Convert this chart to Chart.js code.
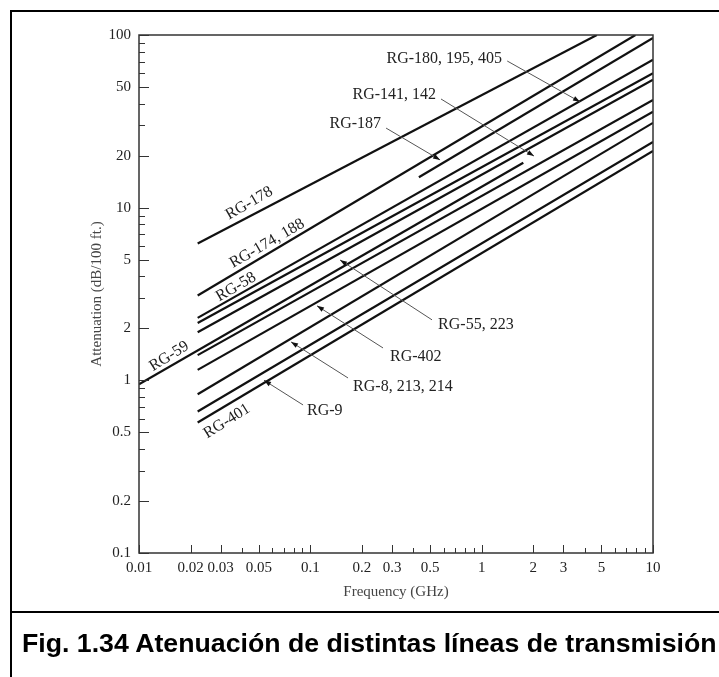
<!DOCTYPE html>
<html>
<head>
<meta charset="utf-8">
<title>Atenuación de líneas de transmisión</title>
<script src="https://cdn.jsdelivr.net/npm/chart.js"></script>
<style>
  body { margin: 0; width: 719px; height: 677px; overflow: hidden; background: #fff; position: relative; }
  #wrap { position: absolute; left: 0; top: 0; width: 719px; height: 612px; }
  #frame { position: absolute; left: 10px; top: 10px; width: 740px; height: 700px; border-left: 2px solid #000; border-top: 2px solid #000; }
  #sep { position: absolute; left: 10px; top: 611px; width: 740px; height: 2px; background: #000; }
  #caption { position: absolute; left: 22px; top: 628px; font: bold 26.7px "Liberation Sans", Arial, sans-serif; white-space: nowrap; color: #000; }
</style>
</head>
<body>
<div id="wrap"><canvas id="attChart" width="719" height="612"></canvas></div>
<div id="frame"></div>
<div id="sep"></div>
<div id="caption">Fig. 1.34 Atenuación de distintas líneas de transmisión</div>
<script>
// cables (frequency in GHz, attenuation in dB/100 ft)
const cableNames = ['RG-178', 'RG-174, 188', 'RG-187', 'RG-58', 'RG-180, 195, 405', 'RG-55, 223',
                    'RG-59', 'RG-141, 142', 'RG-402', 'RG-8, 213, 214', 'RG-9', 'RG-401'];
const startGHz = [0.022, 0.022, 0.43, 0.022, 0.022, 0.022, 0.01, 0.022, 0.022, 0.022, 0.022, 0.022];
const startAtt = [6.2, 3.1, 15, 2.3, 2.15, 1.9, 0.95, 1.4, 1.15, 0.83, 0.66, 0.57];
const endGHz = [4.7, 7.9, 10, 10, 10, 10, 1.75, 10, 10, 10, 10, 10];
const endAtt = [100, 100, 96, 72, 60, 55, 18.2, 42, 36, 31, 24, 21.3];

// axis ticks
const xMajor = [0.01, 0.02, 0.03, 0.05, 0.1, 0.2, 0.3, 0.5, 1, 2, 3, 5, 10];
const xMajorText = ['0.01', '0.02', '0.03', '0.05', '0.1', '0.2', '0.3', '0.5', '1', '2', '3', '5', '10'];
const xMinor = [0.04, 0.06, 0.07, 0.08, 0.09, 0.4, 0.6, 0.7, 0.8, 0.9, 4, 6, 7, 8, 9];
const yMajor = [0.1, 0.2, 0.5, 1, 2, 5, 10, 20, 50, 100];
const yMajorText = ['0.1', '0.2', '0.5', '1', '2', '5', '10', '20', '50', '100'];
const yMinor = [0.3, 0.4, 0.6, 0.7, 0.8, 0.9, 3, 4, 6, 7, 8, 9, 30, 40, 60, 70, 80, 90];

// labels written along the lines (data coords)
const slantLabels = [
  { text: 'RG-178', f: 0.044, a: 10.6, angle: -30 },
  { text: 'RG-174, 188', f: 0.056, a: 6.2, angle: -30 },
  { text: 'RG-58', f: 0.0368, a: 3.47, angle: -30 },
  { text: 'RG-59', f: 0.015, a: 1.38, angle: -32 },
  { text: 'RG-401', f: 0.0326, a: 0.58, angle: -32 }
];

// labels with a leader and arrow: text pos, leader start, arrow tip
const callouts = [
  { text: 'RG-180, 195, 405', align: 'right', tf: 1.315, ta: 72.6, sf: 1.41, sa: 70.7, ef: 3.75, ea: 41 },
  { text: 'RG-141, 142', align: 'right', tf: 0.542, ta: 44.9, sf: 0.579, sa: 42.6, ef: 2.02, ea: 19.9 },
  { text: 'RG-187', align: 'right', tf: 0.2586, ta: 30.5, sf: 0.2767, sa: 28.9, ef: 0.572, ea: 18.9 },
  { text: 'RG-55, 223', align: 'left', tf: 0.557, ta: 2.09, sf: 0.513, sa: 2.24, ef: 0.149, ea: 4.98 },
  { text: 'RG-402', align: 'left', tf: 0.292, ta: 1.366, sf: 0.2657, sa: 1.54, ef: 0.1094, ea: 2.7 },
  { text: 'RG-8, 213, 214', align: 'left', tf: 0.1776, ta: 0.916, sf: 0.166, sa: 1.032, ef: 0.0772, ea: 1.669 },
  { text: 'RG-9', align: 'left', tf: 0.0957, ta: 0.665, sf: 0.0907, sa: 0.72, ef: 0.0537, ea: 1.0 }
];

const serif = '"Liberation Serif", "Times New Roman", serif';

const datasets = cableNames.map((name, i) => ({
  label: name,
  data: [{ x: startGHz[i], y: startAtt[i] }, { x: endGHz[i], y: endAtt[i] }],
  showLine: true,
  borderColor: '#111',
  borderWidth: 2.2,
  pointRadius: 0,
  fill: false
}));

// frame, inward ticks and the text labels
const overlay = {
  id: 'overlay',
  afterDatasetsDraw(chart) {
    const ctx = chart.ctx;
    const a = chart.chartArea;
    const xs = chart.scales.x;
    const ys = chart.scales.y;
    ctx.save();
    ctx.strokeStyle = '#333';
    ctx.lineWidth = 1.5;
    ctx.strokeRect(a.left, a.top, a.right - a.left, a.bottom - a.top);

    ctx.lineWidth = 1;
    ctx.beginPath();
    xs.ticks.forEach(t => {
      const px = Math.round(xs.getPixelForValue(t.value)) + 0.5;
      const len = t.label ? 8 : 5;
      ctx.moveTo(px, a.bottom);
      ctx.lineTo(px, a.bottom - len);
    });
    ys.ticks.forEach(t => {
      const py = Math.round(ys.getPixelForValue(t.value)) + 0.5;
      const len = t.label ? 10 : 6;
      ctx.moveTo(a.left, py);
      ctx.lineTo(a.left + len, py);
    });
    ctx.stroke();

    ctx.fillStyle = '#222';
    ctx.font = '16px ' + serif;
    ctx.textBaseline = 'middle';
    ctx.textAlign = 'center';
    slantLabels.forEach(l => {
      ctx.save();
      ctx.translate(xs.getPixelForValue(l.f), ys.getPixelForValue(l.a));
      ctx.rotate(l.angle * Math.PI / 180);
      ctx.fillText(l.text, 0, 0);
      ctx.restore();
    });

    callouts.forEach(c => {
      const tx = xs.getPixelForValue(c.tf), ty = ys.getPixelForValue(c.ta);
      const sx = xs.getPixelForValue(c.sf), sy = ys.getPixelForValue(c.sa);
      const ex = xs.getPixelForValue(c.ef), ey = ys.getPixelForValue(c.ea);
      ctx.textAlign = c.align;
      ctx.fillStyle = '#222';
      ctx.fillText(c.text, tx, ty);
      ctx.strokeStyle = '#555';
      ctx.lineWidth = 1;
      ctx.beginPath();
      ctx.moveTo(sx, sy);
      ctx.lineTo(ex, ey);
      ctx.stroke();
      // small arrowhead at the tip
      const ang = Math.atan2(ey - sy, ex - sx);
      ctx.fillStyle = '#111';
      ctx.beginPath();
      ctx.moveTo(ex, ey);
      ctx.lineTo(ex - 7 * Math.cos(ang) + 2.5 * Math.sin(ang), ey - 7 * Math.sin(ang) - 2.5 * Math.cos(ang));
      ctx.lineTo(ex - 7 * Math.cos(ang) - 2.5 * Math.sin(ang), ey - 7 * Math.sin(ang) + 2.5 * Math.cos(ang));
      ctx.closePath();
      ctx.fill();
    });
    ctx.restore();
  }
};

new Chart(document.getElementById('attChart'), {
  type: 'scatter',
  data: { datasets: datasets },
  plugins: [overlay],
  options: {
    responsive: false,
    animation: false,
    devicePixelRatio: 1,
    layout: { padding: { left: 84, right: 66, top: 35, bottom: 7 } },
    plugins: { legend: { display: false }, tooltip: { enabled: false } },
    scales: {
      x: {
        type: 'logarithmic',
        min: 0.01,
        max: 10,
        afterBuildTicks: s => { s.ticks = xMajor.concat(xMinor).sort((p, q) => p - q).map(v => ({ value: v })); },
        afterFit: s => { s.height = 52; },
        grid: { display: false, drawTicks: false },
        border: { display: false },
        ticks: {
          autoSkip: false,
          maxRotation: 0,
          padding: 6,
          color: '#222',
          font: { family: serif, size: 15 },
          callback: v => { const i = xMajor.indexOf(v); return i >= 0 ? xMajorText[i] : ''; }
        },
        title: { display: true, text: 'Frequency (GHz)', color: '#444', font: { family: serif, size: 15 }, padding: { top: 4, bottom: 4 } }
      },
      y: {
        type: 'logarithmic',
        min: 0.1,
        max: 100,
        afterBuildTicks: s => { s.ticks = yMajor.concat(yMinor).sort((p, q) => p - q).map(v => ({ value: v })); },
        afterFit: s => { s.width = 55; },
        grid: { display: false, drawTicks: false },
        border: { display: false },
        ticks: {
          autoSkip: false,
          padding: 8,
          color: '#222',
          font: { family: serif, size: 15 },
          callback: v => { const i = yMajor.indexOf(v); return i >= 0 ? yMajorText[i] : ''; }
        },
        title: { display: true, text: 'Attenuation (dB/100 ft.)', color: '#444', font: { family: serif, size: 15 }, padding: { top: 4, bottom: 4 } }
      }
    }
  }
});
</script>
</body>
</html>
